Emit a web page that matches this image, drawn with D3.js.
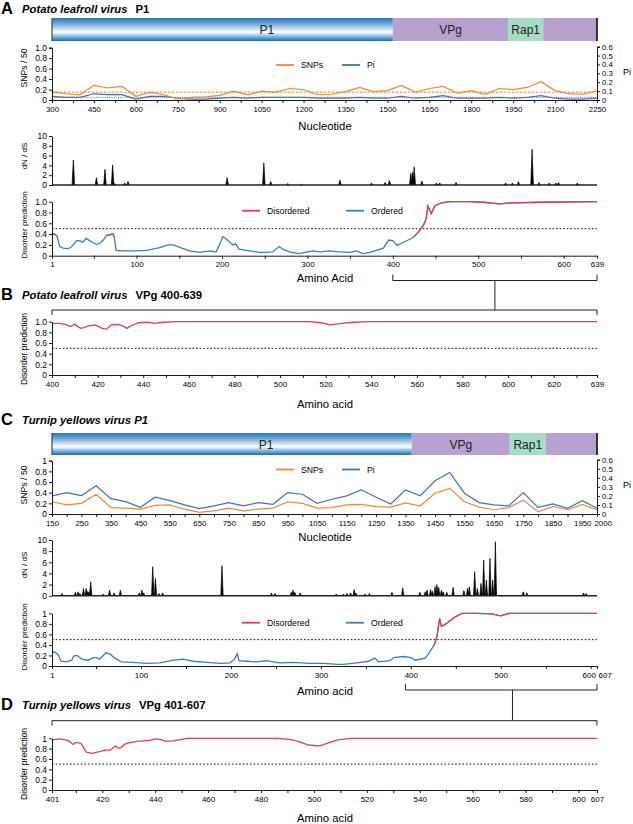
<!DOCTYPE html>
<html>
<head>
<meta charset="utf-8">
<script src="https://cdn.jsdelivr.net/npm/d3@7"></script>
<style>
body { margin: 0; background: #fff; }
svg { font-family: "Liberation Sans", Arial, Helvetica, sans-serif; }
</style>
</head>
<body>
<svg id="fig" width="633" height="824"></svg>
<script>
//Panel A - Potato leafroll virus P1
var aSegName = ["P1", "VPg", "Rap1", ""];
var aSegStart = [1, 400, 535, 576];
var aSegEnd = [400, 535, 576, 639];

var aNt = [300, 350, 400, 450, 500, 550, 600, 650, 700, 750, 800, 850, 900, 950, 1000, 1050, 1100, 1150, 1200, 1250,
    1300, 1350, 1400, 1450, 1500, 1550, 1600, 1650, 1700, 1750, 1800, 1850, 1900, 1950, 2000, 2050, 2100, 2150, 2200, 2250];
var aSnps = [0.16, 0.12, 0.10, 0.28, 0.23, 0.26, 0.07, 0.15, 0.10, 0.02, 0.05, 0.06, 0.09, 0.17, 0.10, 0.17, 0.15, 0.22, 0.20, 0.10,
    0.11, 0.16, 0.24, 0.16, 0.18, 0.28, 0.15, 0.22, 0.26, 0.13, 0.18, 0.11, 0.22, 0.20, 0.24, 0.35, 0.18, 0.12, 0.11, 0.18];
var aPi = [0.04, 0.03, 0.03, 0.07, 0.06, 0.06, 0.01, 0.04, 0.04, 0.02, 0.01, 0.01, 0.02, 0.03, 0.02, 0.03, 0.03, 0.03, 0.03, 0.02,
    0.02, 0.02, 0.03, 0.02, 0.02, 0.04, 0.02, 0.03, 0.05, 0.02, 0.02, 0.02, 0.03, 0.02, 0.03, 0.05, 0.02, 0.01, 0.01, 0.02];
var aSnpMean = 0.15;
var aPiMean = 0.03;
var aNtLabels = [300, 450, 600, 750, 900, 1050, 1200, 1350, 1500, 1650, 1800, 1950, 2100, 2250];

var aDnPos = [26, 53, 63, 72, 74, 86, 90, 206, 249, 257, 277, 293, 338, 375, 391, 396, 421, 423, 425, 434, 451, 455, 474,
    532, 540, 547, 563, 571, 583, 591, 594, 616];
var aDnVal = [5.1, 1.5, 3.2, 4.1, 0.3, 0.4, 0.7, 1.5, 4.5, 0.7, 0.3, 0.15, 1.0, 0.4, 0.5, 0.9, 2.4, 2.6, 3.7, 0.8, 0.4, 0.4, 0.5,
    0.4, 0.4, 0.7, 7.3, 0.5, 0.4, 0.4, 0.5, 0.4];

var aDisPos = [1, 4, 7, 10, 14, 20, 24, 30, 33, 37, 41, 45, 49, 53, 57, 61, 65, 68, 72, 74,
    76, 84, 96, 112, 127, 137, 143, 153, 162, 174, 186, 193, 197, 201, 205, 213, 216, 220, 232, 244,
    251, 259, 267, 271, 279, 290, 306, 315, 326, 338, 350, 357, 365, 373, 381, 389, 395, 400, 405, 410,
    418, 424, 430, 436, 439, 441, 445, 449, 457, 467, 490, 506, 525, 537, 576, 639];
var aDisVal = [0.41, 0.40, 0.36, 0.17, 0.14, 0.13, 0.17, 0.28, 0.28, 0.25, 0.32, 0.28, 0.24, 0.21, 0.23, 0.29, 0.38, 0.38, 0.41, 0.34,
    0.10, 0.09, 0.09, 0.10, 0.15, 0.20, 0.20, 0.14, 0.09, 0.06, 0.09, 0.07, 0.20, 0.35, 0.31, 0.20, 0.22, 0.12, 0.09, 0.06,
    0.06, 0.07, 0.17, 0.12, 0.07, 0.04, 0.09, 0.07, 0.09, 0.07, 0.06, 0.09, 0.04, 0.06, 0.10, 0.14, 0.29, 0.28, 0.19, 0.23,
    0.29, 0.34, 0.44, 0.57, 0.69, 0.92, 0.78, 0.92, 0.98, 1.0, 1.0, 0.99, 0.96, 0.98, 0.99, 1.0];
var aRed = [[1, 7], [64, 74], [424, 639]];
var aAaLabels = [1, 100, 200, 300, 400, 500, 600, 639];

//Panel B - PLRV VPg 400-639
var bPos = [400, 403, 406, 408, 410, 412, 413, 416, 419, 422, 424, 426, 429, 431, 433, 434, 438, 442, 445, 449,
    455, 513, 518, 522, 527, 532, 539, 639];
var bVal = [0.97, 0.97, 0.95, 0.91, 0.95, 0.89, 0.875, 0.92, 0.94, 0.875, 0.86, 0.94, 0.95, 0.92, 0.875, 0.91, 0.98, 0.99, 0.97, 0.99,
    1.0, 1.0, 0.98, 0.94, 0.97, 0.99, 1.0, 1.0];
var bLabels = [400, 420, 440, 460, 480, 500, 520, 540, 560, 580, 600, 620, 639];

//Panel C - Turnip yellows virus P1
var cSegName = ["P1", "VPg", "Rap1", ""];
var cSegStart = [1, 401, 510, 550];
var cSegEnd = [401, 510, 550, 607];

var cNt = [150, 200, 250, 300, 350, 400, 450, 500, 550, 600, 650, 700, 750, 800, 850, 900, 950, 1000, 1050,
    1100, 1150, 1200, 1250, 1300, 1350, 1400, 1450, 1500, 1550, 1600, 1650, 1700, 1750, 1800, 1850, 1900, 1950, 2000];
var cSnps = [0.23, 0.17, 0.20, 0.37, 0.12, 0.11, 0.09, 0.16, 0.17, 0.09, 0.03, 0.06, 0.11, 0.06, 0.09, 0.11, 0.23, 0.20, 0.11,
    0.12, 0.17, 0.18, 0.14, 0.13, 0.21, 0.15, 0.39, 0.48, 0.23, 0.13, 0.08, 0.12, 0.26, 0.04, 0.14, 0.08, 0.18, 0.08];
var cPi = [0.20, 0.237, 0.204, 0.311, 0.17, 0.137, 0.074, 0.185, 0.148, 0.10, 0.059, 0.089, 0.126, 0.089, 0.126, 0.107, 0.237, 0.218, 0.119,
    0.163, 0.20, 0.267, 0.185, 0.111, 0.267, 0.20, 0.367, 0.459, 0.23, 0.126, 0.10, 0.089, 0.237, 0.074, 0.111, 0.063, 0.148, 0.063];
var cNtLabels = [150, 250, 350, 450, 550, 650, 750, 850, 950, 1050, 1150, 1250, 1350, 1450, 1550, 1650, 1750, 1850, 1950, 2000];

var cDnPos = [12, 27, 30, 32, 36, 39, 40, 42, 44, 58, 65, 70, 77, 98, 101, 103, 113, 116, 120, 124, 190, 245, 249, 267, 269, 271, 277,
    317, 325, 329, 333, 337, 339, 349, 354, 379, 391, 410, 416, 418, 422, 424, 427, 429, 431, 434, 436, 440, 447,
    459, 463, 465, 471, 474, 478, 481, 484, 488, 491, 494, 525, 529, 592, 595];
var cDnVal = [0.4, 0.6, 0.7, 0.4, 1.3, 1.3, 0.8, 0.7, 2.5, 0.3, 1.0, 0.5, 1.0, 0.5, 1.0, 0.5, 5.2, 3.1, 0.4, 0.5, 5.4, 0.5, 0.4, 0.6, 1.0, 0.6, 0.5,
    0.3, 0.3, 0.4, 0.5, 1.1, 0.5, 0.3, 0.4, 0.6, 1.4, 0.6, 0.7, 1.0, 1.1, 0.8, 1.6, 2.0, 1.5, 1.0, 0.7, 0.6, 1.5,
    0.9, 1.3, 1.6, 4.3, 1.3, 2.2, 6.4, 2.8, 6.7, 2.8, 9.7, 0.7, 0.5, 0.5, 0.4];

var cDisPos = [1, 4, 8, 11, 17, 23, 25, 29, 34, 41, 47, 50, 54, 61, 65, 71, 78, 91, 106, 121,
    136, 147, 158, 173, 188, 199, 204, 207, 209, 217, 228, 239, 254, 269, 288, 303, 318, 325, 340, 353,
    360, 364, 377, 381, 392, 400, 405, 416, 420, 426, 429, 432, 434, 437, 440, 448, 457, 474, 490, 500,
    509, 548, 607];
var cDisVal = [0.25, 0.27, 0.21, 0.09, 0.08, 0.11, 0.19, 0.20, 0.13, 0.11, 0.16, 0.16, 0.13, 0.25, 0.23, 0.15, 0.08, 0.07, 0.05, 0.06,
    0.11, 0.13, 0.09, 0.07, 0.05, 0.06, 0.13, 0.23, 0.10, 0.09, 0.08, 0.10, 0.06, 0.07, 0.05, 0.05, 0.03, 0.03, 0.06, 0.09,
    0.15, 0.08, 0.10, 0.16, 0.18, 0.16, 0.11, 0.15, 0.24, 0.40, 0.56, 0.90, 0.75, 0.78, 0.81, 0.92, 1.0, 1.0, 0.99, 0.95,
    1.0, 1.0, 1.0];
var cRed = [[426, 607]];
var cAaLabels = [1, 100, 200, 300, 400, 500, 600, 607];

//Panel D - TuYV VPg 401-607
var dPos = [401, 404, 407, 409, 410, 412, 413, 414, 416, 419, 421, 423, 425, 426, 427, 429, 433, 438, 440, 442,
    444, 447, 452, 486, 491, 494, 498, 502, 503, 506, 509, 514, 607];
var dVal = [0.97, 0.99, 0.96, 0.88, 0.92, 0.90, 0.81, 0.73, 0.71, 0.74, 0.77, 0.77, 0.85, 0.81, 0.82, 0.90, 0.94, 0.96, 0.99, 0.98,
    0.94, 0.95, 1.0, 1.0, 0.98, 0.94, 0.87, 0.855, 0.87, 0.92, 0.97, 1.0, 1.0];
var dLabels = [401, 420, 440, 460, 480, 500, 520, 540, 560, 580, 600, 607];

//Colours
var cOrange = "#e98a3c", cPiBlue = "#4571b3", cRedLine = "#d9434f", cOrdBlue = "#3a80b9";
var cPurple = "#b6a1d1", cMint = "#a6dcc4";

var svg = d3.select("#fig");
var L = 52, R = 597;

var grad = svg.append("defs").append("linearGradient").attr("id", "p1grad")
    .attr("x1", 0).attr("y1", 0).attr("x2", 0).attr("y2", 1);
[[0, "#2a76b6"], [0.2, "#5c9ed1"], [0.62, "#ffffff"], [0.82, "#7ab2db"], [1, "#1e69aa"]].forEach(function (s) {
    grad.append("stop").attr("offset", s[0]).attr("stop-color", s[1]);
});

function fmt1(v) { return v === 0 ? "0" : d3.format(".1f")(v); }
function fmt2(v) { return (v === 0 || v === 1) ? String(v) : d3.format(".1f")(v); }

function styleAxis(g, size) {
    g.select(".domain").attr("stroke", "#000").attr("stroke-width", 0.9);
    g.selectAll(".tick line").attr("stroke", "#000").attr("stroke-width", 0.9);
    g.selectAll(".tick text").attr("font-size", size).attr("fill", "#000")
        .attr("font-family", '"Liberation Sans", Arial, Helvetica, sans-serif');
}

// last label squeezed against its neighbour: start it at the tick, nudge the one before
function shiftLast(g, v, dx, prev) {
    if (v === undefined) return;
    g.selectAll(".tick text").filter(function (d) { return d === v; })
        .attr("text-anchor", "start").attr("dx", dx);
    if (prev !== undefined)
        g.selectAll(".tick text").filter(function (d) { return d === prev; }).attr("dx", -2);
}

function title(y, letter, parts) {
    svg.append("text").attr("x", 1).attr("y", y + 1).attr("font-size", 16.5).attr("font-weight", "bold").text(letter);
    var t = svg.append("text").attr("x", 22).attr("y", y).attr("font-size", 11.3).attr("font-weight", "bold");
    parts.forEach(function (p) {
        t.append("tspan").attr("font-style", p[1] ? "italic" : "normal").attr("dx", p[2] || 0).text(p[0]);
    });
}

function yTitle(txt, cy, size) {
    svg.append("text").attr("transform", `translate(25,${cy}) rotate(-90)`)
        .attr("text-anchor", "middle").attr("dominant-baseline", "middle").attr("font-size", size).text(txt);
}

function xTitle(txt, y) {
    svg.append("text").attr("x", 325).attr("y", y).attr("text-anchor", "middle").attr("font-size", 11.3).text(txt);
}

function legendItem(x, y, color, txt) {
    svg.append("line").attr("x1", x).attr("x2", x + 18).attr("y1", y).attr("y2", y)
        .attr("stroke", color).attr("stroke-width", 1.8);
    svg.append("text").attr("x", x + 25).attr("y", y + 3).attr("font-size", 8.7).text(txt);
}

function genomeBar(names, starts, ends, x, y0, y1, p1Frac) {
    var g = svg.append("g");
    var fills = ["url(#p1grad)", cPurple, cMint, cPurple];
    names.forEach(function (n, i) {
        var x0 = x(starts[i]), x1 = x(ends[i]);
        g.append("rect").attr("x", x0).attr("y", y0).attr("width", x1 - x0).attr("height", y1 - y0).attr("fill", fills[i]);
        if (n) {
            var tx = i === 0 ? x0 + (x1 - x0) * p1Frac : (x0 + x1) / 2;
            g.append("text").attr("x", tx).attr("y", (y0 + y1) / 2 + 4.5).attr("text-anchor", "middle")
                .attr("font-size", 12).attr("fill", "#222").text(n);
        }
    });
    g.append("line").attr("x1", L).attr("x2", L).attr("y1", y0).attr("y2", y1).attr("stroke", "#444").attr("stroke-width", 1.2);
    g.append("line").attr("x1", R).attr("x2", R).attr("y1", y0).attr("y2", y1).attr("stroke", "#000").attr("stroke-width", 1.5);
}

function snpPanel(o) {
    var x = d3.scaleLinear().domain(o.xDomain).range([L, R]);
    var yl = d3.scaleLinear().domain([0, 1]).range([o.y1, o.y0]);
    var yr = d3.scaleLinear().domain([0, 0.6]).range([o.y1, o.y0 - 1]);
    var g = svg.append("g");

    if (o.snpMean !== undefined) {
        g.append("line").attr("x1", L).attr("x2", R).attr("y1", yl(o.snpMean)).attr("y2", yl(o.snpMean))
            .attr("stroke", cOrange).attr("stroke-width", 1).attr("stroke-dasharray", "2.5,1.5");
        g.append("line").attr("x1", L).attr("x2", R).attr("y1", yr(o.piMean)).attr("y2", yr(o.piMean))
            .attr("stroke", cPiBlue).attr("stroke-width", 1).attr("stroke-dasharray", "1,1.2");
    }

    var lineS = d3.line().x(function (d, i) { return x(o.nt[i]); }).y(function (d) { return yl(d); });
    var lineP = d3.line().x(function (d, i) { return x(o.nt[i]); }).y(function (d) { return yr(d); });
    g.append("path").attr("d", lineP(o.pi)).attr("fill", "none").attr("stroke", cPiBlue).attr("stroke-width", 1.2);
    g.append("path").attr("d", lineS(o.snps)).attr("fill", "none").attr("stroke", cOrange).attr("stroke-width", 1.2);

    var ax = g.append("g").attr("transform", `translate(0,${o.y1})`)
        .call(d3.axisBottom(x).tickValues(o.xTicks).tickSize(3).tickPadding(3).tickSizeOuter(0)
            .tickFormat(function (d) { return o.xLabels.indexOf(d) >= 0 ? d : ""; }));
    styleAxis(ax, 7.8);
    shiftLast(ax, o.lastStart, -3);
    var ay = g.append("g").attr("transform", `translate(${L},0)`)
        .call(d3.axisLeft(yl).tickValues([0, 0.2, 0.4, 0.6, 0.8, 1]).tickSize(3).tickPadding(2).tickFormat(o.fmt));
    styleAxis(ay, 8.5);
    var ar = g.append("g").attr("transform", `translate(${R},0)`)
        .call(d3.axisRight(yr).tickValues([0, 0.1, 0.2, 0.3, 0.4, 0.5, 0.6]).tickSize(3).tickPadding(2).tickFormat(fmt1));
    styleAxis(ar, 7.8);

    yTitle("SNPs / 50", o.titleY, 8.7);
    svg.append("text").attr("x", 627).attr("y", o.piY).attr("text-anchor", "middle").attr("font-size", 9).text("Pi");
    legendItem(276, o.legendY, cOrange, "SNPs");
    legendItem(342, o.legendY, cPiBlue, "Pi");
}

function dnPanel(pos, val, x, y0, y1, hw, titleY) {
    var y = d3.scaleLinear().domain([0, 10]).range([y1, y0]);
    var g = svg.append("g");
    var tri = d3.line().x(function (d) { return x(d[0]); }).y(function (d) { return y(d[1]); });
    pos.forEach(function (p, i) {
        g.append("path").attr("d", tri([[p - hw, 0], [p, val[i]], [p + hw, 0]]))
            .attr("fill", "#000").attr("stroke", "#000").attr("stroke-width", 0.7).attr("stroke-linejoin", "round");
    });
    g.append("line").attr("x1", L).attr("x2", R).attr("y1", y(0)).attr("y2", y(0))
        .attr("stroke", "#222").attr("stroke-width", 1.6);
    var ay = g.append("g").attr("transform", `translate(${L},0)`)
        .call(d3.axisLeft(y).tickValues([0, 2, 4, 6, 8, 10]).tickSize(3).tickPadding(2).tickSizeOuter(0));
    styleAxis(ay, 8.5);
    yTitle("dN / dS", titleY, 8);
}

function disPanel(o) {
    var y = d3.scaleLinear().domain([0, 1]).range([o.y1, o.y0]);
    var x = o.x;
    var g = svg.append("g");
    g.append("line").attr("x1", L).attr("x2", R).attr("y1", y(0.5)).attr("y2", y(0.5))
        .attr("stroke", "#111").attr("stroke-width", 1).attr("stroke-dasharray", "1.6,2");

    var pts = o.pos.map(function (p, i) { return [p, o.val[i]]; });
    var line = d3.line().x(function (d) { return x(d[0]); }).y(function (d) { return y(d[1]); });
    if (o.blue) {
        g.append("path").attr("d", line(pts)).attr("fill", "none").attr("stroke", cOrdBlue).attr("stroke-width", 1.3);
    }
    o.red.forEach(function (r) {
        var seg = pts.filter(function (d) { return d[0] >= r[0] && d[0] <= r[1]; });
        g.append("path").attr("d", line(seg)).attr("fill", "none").attr("stroke", cRedLine).attr("stroke-width", 1.3);
    });

    var ax = g.append("g").attr("transform", `translate(0,${o.y1})`)
        .call(d3.axisBottom(x).tickValues(o.ticks).tickSize(3).tickPadding(3).tickSizeOuter(0)
            .tickFormat(function (d) { return o.labels.indexOf(d) >= 0 ? d : ""; }));
    styleAxis(ax, 8);
    shiftLast(ax, o.lastStart, 1, o.lastPrev);
    var ay = g.append("g").attr("transform", `translate(${L},0)`)
        .call(d3.axisLeft(y).tickValues([0, 0.2, 0.4, 0.6, 0.8, 1]).tickSize(3).tickPadding(2).tickSizeOuter(0).tickFormat(o.fmt));
    styleAxis(ay, 8.5);
    yTitle("Disorder prediction", o.titleY, o.titleSize);

    if (o.legendY) {
        legendItem(242, o.legendY, cRedLine, "Disordered");
        legendItem(346, o.legendY, cOrdBlue, "Ordered");
    }
}

function bracketPair(x0, x1, xm, yTop, yBot, xb0, xb1) {
    var g = svg.append("g").attr("fill", "none").attr("stroke", "#222").attr("stroke-width", 1);
    g.append("path").attr("d", `M${x0},${yTop - 6}V${yTop}H${x1}V${yTop - 6}`);
    g.append("path").attr("d", `M${xm},${yTop}V${yBot}`);
    g.append("path").attr("d", `M${xb0},${yBot + 5}V${yBot}H${xb1}V${yBot + 5}`);
}

//A
var xA = d3.scaleLinear().domain([1, 639]).range([L, R]);
title(12.5, "A", [["Potato leafroll virus", true], ["P1", false, 8]]);
genomeBar(aSegName, aSegStart, aSegEnd, xA, 18, 41, 0.63);
snpPanel({
    nt: aNt, snps: aSnps, pi: aPi, snpMean: aSnpMean, piMean: aPiMean,
    xDomain: [300, 2250], xTicks: d3.range(300, 2251, 75), xLabels: aNtLabels,
    y0: 47.7, y1: 100, fmt: fmt1, titleY: 68, piY: 75, legendY: 65
});
xTitle("Nucleotide", 130);
dnPanel(aDnPos, aDnVal, xA, 136, 185, 1.5, 156);
disPanel({
    pos: aDisPos, val: aDisVal, red: aRed, blue: true, x: xA, y0: 201.7, y1: 255.7,
    ticks: [1].concat(d3.range(50, 601, 50), [639]), labels: aAaLabels, fmt: fmt1,
    titleY: 225, titleSize: 8, legendY: 210.7
});
xTitle("Amino Acid", 282);

//B
var xB = d3.scaleLinear().domain([400, 639]).range([L, R]);
bracketPair(xA(400), xA(639), (xA(400) + xA(639)) / 2, 280.5, 310, L, R);
title(299, "B", [["Potato leafroll virus", true], ["VPg 400-639", false, 8]]);
disPanel({
    pos: bPos, val: bVal, red: [[400, 639]], blue: false, x: xB, y0: 321.7, y1: 375,
    ticks: d3.range(400, 631, 10).concat([639]), labels: bLabels, fmt: fmt1,
    titleY: 349, titleSize: 8.6
});
xTitle("Amino acid", 408);

//C
var xC = d3.scaleLinear().domain([1, 607]).range([L, R]);
title(424, "C", [["Turnip yellows virus P1", true]]);
genomeBar(cSegName, cSegStart, cSegEnd, xC, 433, 455, 0.595);
snpPanel({
    nt: cNt, snps: cSnps, pi: cPi,
    xDomain: [150, 2000], xTicks: d3.range(150, 2001, 50), xLabels: cNtLabels, lastStart: 2000,
    y0: 460.7, y1: 514, fmt: fmt2, titleY: 485, piY: 488, legendY: 469.5
});
xTitle("Nucleotide", 541);
dnPanel(cDnPos, cDnVal, xC, 540, 595.7, 1.3, 565);
disPanel({
    pos: cDisPos, val: cDisVal, red: cRed, blue: true, x: xC, y0: 613.3, y1: 666,
    ticks: [1].concat(d3.range(50, 601, 50), [607]), labels: cAaLabels, fmt: fmt2, lastStart: 607, lastPrev: 600,
    titleY: 637, titleSize: 8, legendY: 622.7
});
xTitle("Amino acid", 695);

//D
var xD = d3.scaleLinear().domain([401, 607]).range([L, R]);
bracketPair(xC(394), xC(607), xC(513), 690, 720.7, L, R);
title(709, "D", [["Turnip yellows virus", true], ["VPg 401-607", false, 8]]);
disPanel({
    pos: dPos, val: dVal, red: [[401, 607]], blue: false, x: xD, y0: 738.3, y1: 790,
    ticks: [401].concat(d3.range(410, 601, 10), [607]), labels: dLabels, fmt: fmt2,
    titleY: 764, titleSize: 8.6
});
xTitle("Amino acid", 822);
</script>
</body>
</html>
